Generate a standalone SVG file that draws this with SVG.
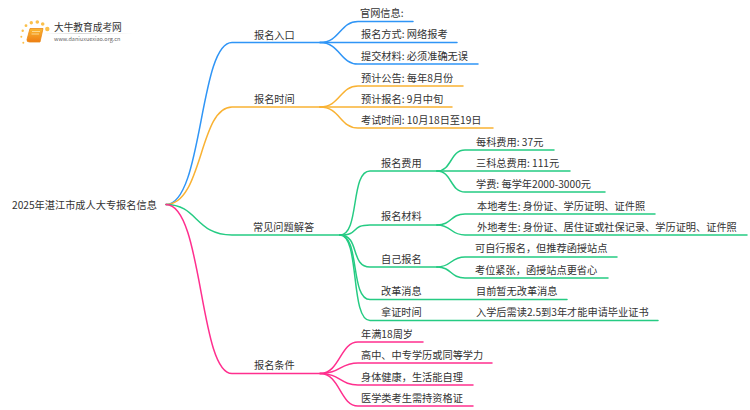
<svg xmlns="http://www.w3.org/2000/svg" width="750" height="410" viewBox="0 0 750 410">
<style>
text{font-family:"Noto Sans CJK SC","Noto Sans",sans-serif;font-size:10.200px;fill:#333}
.c{fill:none;stroke-width:1.500;stroke-linecap:round}
.b{stroke:#2f95f6}.o{stroke:#f9b233}.g{stroke:#25cb83}.p{stroke:#ff2f8e}
</style>
<defs><linearGradient id="bk" x1="0" y1="0" x2="0" y2="1"><stop offset="0" stop-color="#fbb832"/><stop offset="1" stop-color="#ee7d14"/></linearGradient>
<linearGradient id="rl" x1="0" y1="0" x2="1" y2="0"><stop offset="0" stop-color="#ccc" stop-opacity="0"/><stop offset=".4" stop-color="#ccc"/><stop offset="1" stop-color="#ccc" stop-opacity="0"/></linearGradient></defs>
<g id="logo">
<g fill="#fbc04a"><circle cx="47.300" cy="29" r="2.200"/><circle cx="42.700" cy="24" r="1.800"/><circle cx="37.300" cy="22" r="1.800"/><circle cx="31.300" cy="22.700" r="1.700"/><circle cx="26" cy="25.700" r="1.400"/><circle cx="22.700" cy="30.700" r="1.200"/><circle cx="21.300" cy="36.700" r="1"/><circle cx="23.300" cy="42.700" r="1"/></g>
<path d="M30 28.500H43L40 42H29.500Q26.500 42 27 39.500Z" fill="url(#bk)" stroke="#ea8a17" stroke-width=".8"/>
<path d="M32 31.500H40M31.500 34H39" stroke="#fde3a8" stroke-width=".8" fill="none"/>
<rect x="44" y="33" width="89" height=".8" fill="url(#rl)"/>
<text x="54" y="30.500" style="font-size:9.700px">大牛教育成考网</text>
<text x="54" y="40.700" style="font-size:5.500px;fill:#666">www.daniuxuexiao.org.cn</text>
</g>
<g id="connectors">
<g><path class="c b" d="M166 204.500C203 204.500 199 42.500 232 42.500H320"/><path class="c b" d="M320 42.500C340 42.500 340 21.500 358 21.500H413"/><path class="c b" d="M320 42.500H457"/><path class="c b" d="M320 42.500C340 42.500 340 64 358 64H478"/></g>
<g><path class="c o" d="M166 204.500C203 204.500 199 107 232 107H320"/><path class="c o" d="M320 107C340 107 340 86 358 86H463"/><path class="c o" d="M320 107H452"/><path class="c o" d="M320 107C340 107 340 128 358 128H493"/></g>
<g><path class="c g" d="M166 204.500C198 204.500 195 235 232 235H340"/>
<path class="c g" d="M340 235C360 235 350 171 370 171H437"/><path class="c g" d="M340 235C360 235 350 225 370 225H437"/><path class="c g" d="M340 235C360 235 350 267 370 267H437"/><path class="c g" d="M340 235C360 235 350 299.500 370 299.500H567"/><path class="c g" d="M340 235C360 235 350 320.500 370 320.500H658"/>
<path class="c g" d="M437 171C452 171 450 150 465 150H554"/><path class="c g" d="M437 171H570"/><path class="c g" d="M437 171C452 171 450 192 465 192H605"/>
<path class="c g" d="M437 225C452 225 450 214 465 214H655"/><path class="c g" d="M437 225C452 225 450 235 465 235H747"/>
<path class="c g" d="M437 267C452 267 450 257 465 257H617"/><path class="c g" d="M437 267C452 267 450 278 465 278H608"/></g>
<g><path class="c p" d="M166 204.500C203 204.500 199 373.500 232 373.500H320"/><path class="c p" d="M320 373.500C340 373.500 340 342 358 342H423"/><path class="c p" d="M320 373.500C340 373.500 340 363 358 363H492"/><path class="c p" d="M320 373.500C340 373.500 340 385 358 385H473"/><path class="c p" d="M320 373.500C340 373.500 340 406 358 406H473"/></g>
</g>
<g id="root"><text x="12" y="209">2025年湛江市成人大专报名信息</text></g>
<g id="n-entry"><text x="254" y="39">报名入口</text><text x="360" y="17">官网信息:</text><text x="361" y="38">报名方式: 网络报考</text><text x="361" y="60">提交材料: 必须准确无误</text></g>
<g id="n-time"><text x="254" y="103">报名时间</text><text x="361" y="82">预计公告: 每年8月份</text><text x="361" y="103">预计报名: 9月中旬</text><text x="361" y="124">考试时间: 10月18日至19日</text></g>
<g id="n-faq"><text x="253" y="231">常见问题解答</text>
<text x="381" y="167">报名费用</text><text x="381" y="220">报名材料</text><text x="381" y="263">自己报名</text><text x="381" y="295">改革消息</text><text x="381" y="316">拿证时间</text>
<text x="476" y="146">每科费用: 37元</text><text x="476" y="167">三科总费用: 111元</text><text x="476" y="188">学费: 每学年2000-3000元</text>
<text x="477" y="210">本地考生: 身份证、学历证明、证件照</text><text x="477" y="231">外地考生: 身份证、居住证或社保记录、学历证明、证件照</text>
<text x="475" y="252">可自行报名，但推荐函授站点</text><text x="475" y="274">考位紧张，函授站点更省心</text>
<text x="476" y="295">目前暂无改革消息</text><text x="476" y="316">入学后需读2.5到3年才能申请毕业证书</text></g>
<g id="n-cond"><text x="254" y="369">报名条件</text><text x="361" y="338">年满18周岁</text><text x="361" y="359">高中、中专学历或同等学力</text><text x="361" y="381">身体健康，生活能自理</text><text x="361" y="402">医学类考生需持资格证</text></g>
</svg>
